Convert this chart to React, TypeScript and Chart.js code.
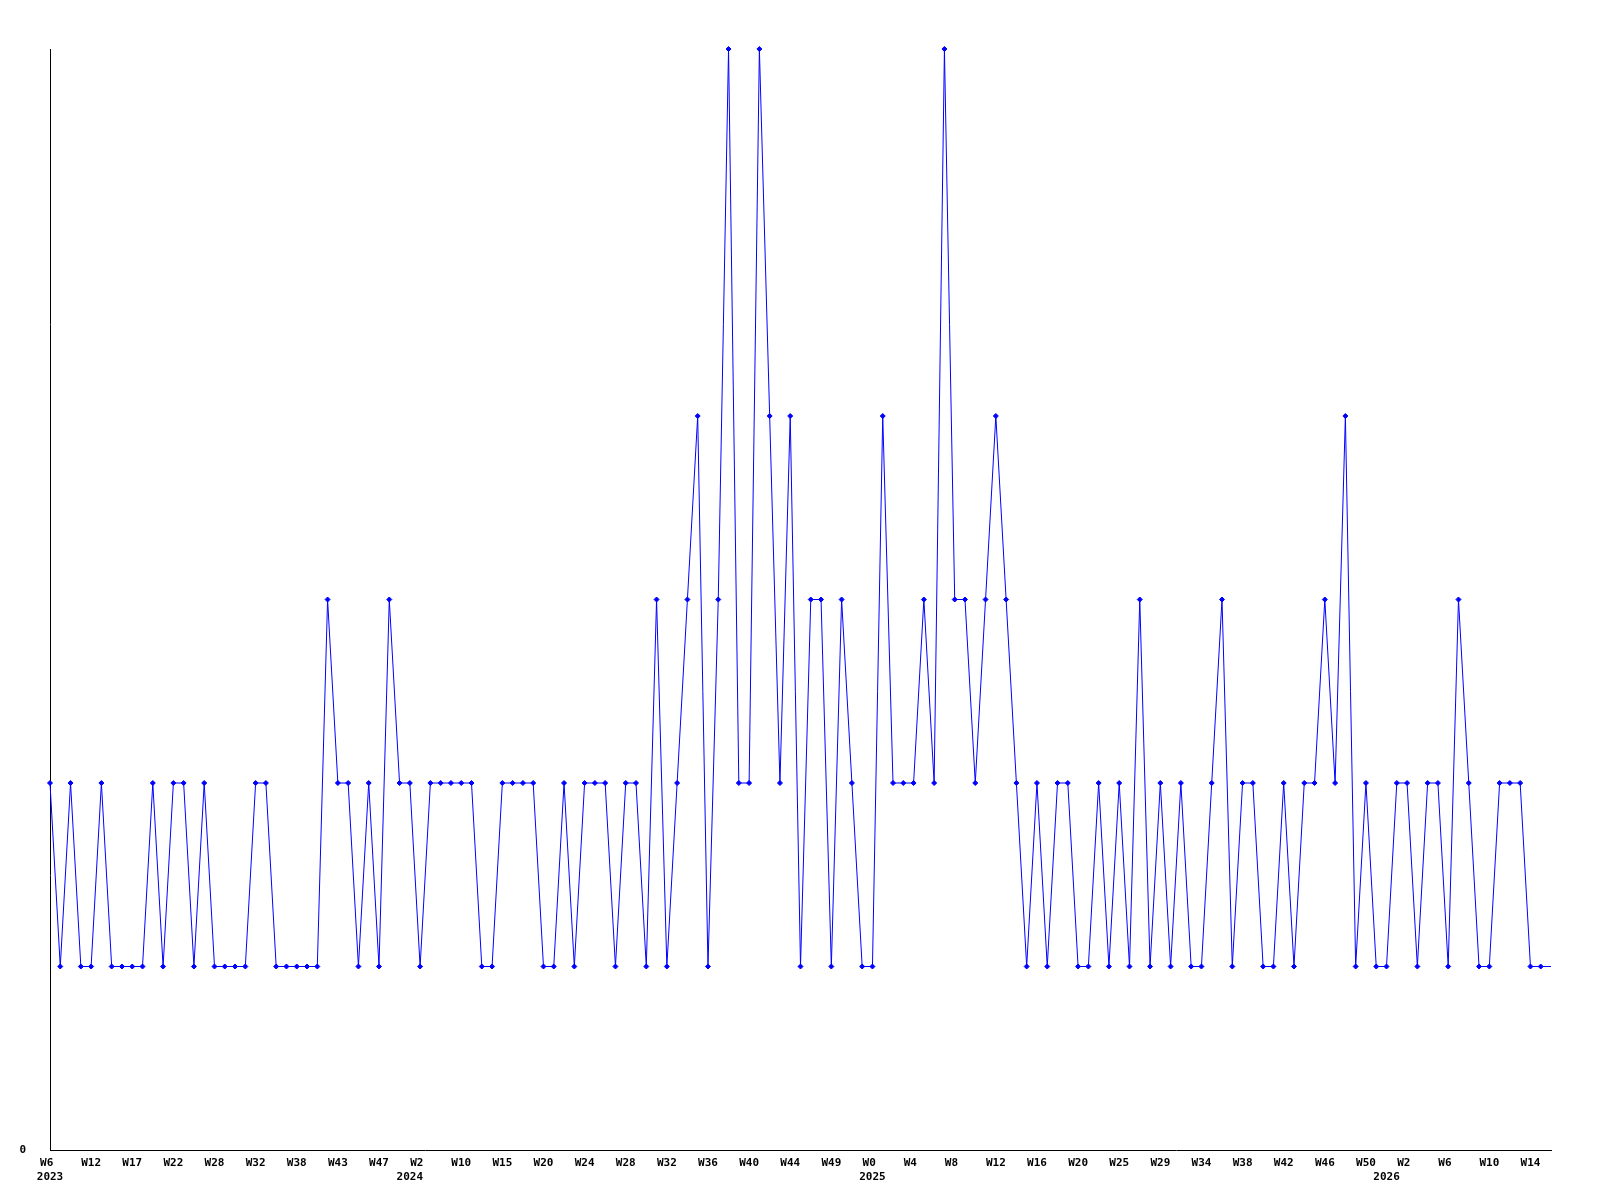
import React, { useEffect, useRef } from 'react';
import { Chart, registerables } from 'chart.js';

Chart.register(...registerables);

// Weekly values (one point per period)
const values: number[] = [
  2, 1, 2, 1, 1, 2, 1, 1, 1, 1,
  2, 1, 2, 2, 1, 2, 1, 1, 1, 1,
  2, 2, 1, 1, 1, 1, 1, 3, 2, 2,
  1, 2, 1, 3, 2, 2, 1, 2, 2, 2,
  2, 2, 1, 1, 2, 2, 2, 2, 1, 1,
  2, 1, 2, 2, 2, 1, 2, 2, 1, 3,
  1, 2, 3, 4, 1, 3, 6, 2, 2, 6,
  4, 2, 4, 1, 3, 3, 1, 3, 2, 1,
  1, 4, 2, 2, 2, 3, 2, 6, 3, 3,
  2, 3, 4, 3, 2, 1, 2, 1, 2, 2,
  1, 1, 2, 1, 2, 1, 3, 1, 2, 1,
  2, 1, 1, 2, 3, 1, 2, 2, 1, 1,
  2, 1, 2, 2, 3, 2, 4, 1, 2, 1,
  1, 2, 2, 1, 2, 2, 1, 3, 2, 1,
  1, 2, 2, 2, 1, 1, 1,
];

// X tick labels, one every TICK_EVERY points
const TICK_EVERY = 4;
const tickLabels: string[] = [
  'W6', 'W12', 'W17', 'W22', 'W28', 'W32', 'W38', 'W43', 'W47',
  'W2', 'W10', 'W15', 'W20', 'W24', 'W28', 'W32', 'W36', 'W40', 'W44', 'W49',
  'W0', 'W4', 'W8', 'W12', 'W16', 'W20', 'W25', 'W29', 'W34', 'W38', 'W42', 'W46', 'W50',
  'W2', 'W6', 'W10', 'W14',
];
// Year labels and the point index they sit under
const yearPointIndex: number[] = [0, 35, 80, 130];
const yearNames: string[] = ['2023', '2024', '2025', '2026'];

const yTickLabels: string[] = ['0'];

const FONT = { family: '"DejaVu Sans Mono", "Liberation Mono", monospace', size: 11, weight: 'bold' as const, lineHeight: '16px' };

export default function App() {
  const canvasRef = useRef<HTMLCanvasElement | null>(null);

  useEffect(() => {
    const canvas = canvasRef.current;
    if (!canvas) return;
    const labels = values.map((_, i) => String(i));
    const radii = values.map((_, i) => (i === values.length - 1 ? 0 : 2.5));
    const chart = new Chart(canvas, {
      type: 'line',
      data: {
        labels,
        datasets: [
          {
            data: values,
            borderColor: '#0000ff',
            backgroundColor: '#0000ff',
            borderWidth: 1,
            pointStyle: 'rectRot',
            pointRadius: radii,
            pointBorderWidth: 1,
            pointBorderColor: '#0000ff',
            pointBackgroundColor: '#0000ff',
            tension: 0,
            fill: false,
            clip: false as any,
          },
        ],
      },
      options: {
        animation: false,
        responsive: true,
        maintainAspectRatio: false,
        layout: { padding: { left: 0, top: 49, right: 49, bottom: 0 } },
        plugins: { legend: { display: false }, tooltip: { enabled: false } },
        events: [],
        scales: {
          x: {
            type: 'category',
            position: 'bottom',
            weight: 0,
            offset: false,
            grid: { display: false, drawTicks: false },
            border: { display: true, color: '#000', width: 1 },
            afterFit: (scale: any) => {
              scale.height = 18;
            },
            ticks: {
              autoSkip: false,
              maxRotation: 0,
              minRotation: 0,
              padding: 5,
              color: '#000',
              font: FONT,
              callback: (_v: any, idx: number) => {
                if (idx % TICK_EVERY !== 0) return '';
                const lab = tickLabels[idx / TICK_EVERY];
                if (lab === undefined) return '';
                return lab.length < 3 ? lab + ' ' : lab;
              },
            },
          },
          x2: {
            type: 'category',
            position: 'bottom',
            weight: 1,
            offset: false,
            grid: { display: false, drawTicks: false },
            border: { display: false },
            afterFit: (scale: any) => {
              scale.height = 32;
            },
            ticks: {
              autoSkip: false,
              maxRotation: 0,
              minRotation: 0,
              padding: 1,
              color: '#000',
              font: FONT,
              callback: (_v: any, idx: number) => {
                const yi = yearPointIndex.indexOf(idx);
                return yi >= 0 ? yearNames[yi] : '';
              },
            },
          },
          y: {
            min: 0,
            max: 6,
            grid: { display: false, drawTicks: false },
            border: { display: true, color: '#000', width: 1 },
            afterFit: (scale: any) => {
              scale.width = 50;
            },
            ticks: {
              stepSize: 6,
              padding: 24,
              color: '#000',
              font: FONT,
              callback: (v: any) => (Number(v) === 0 ? yTickLabels[0] : ''),
            },
          },
        },
      },
    });
    return () => chart.destroy();
  }, []);

  return (
    <div style={{ position: 'absolute', left: 0, top: 0, width: 1600, height: 1200, background: '#fff' }}>
      <canvas ref={canvasRef} />
    </div>
  );
}
